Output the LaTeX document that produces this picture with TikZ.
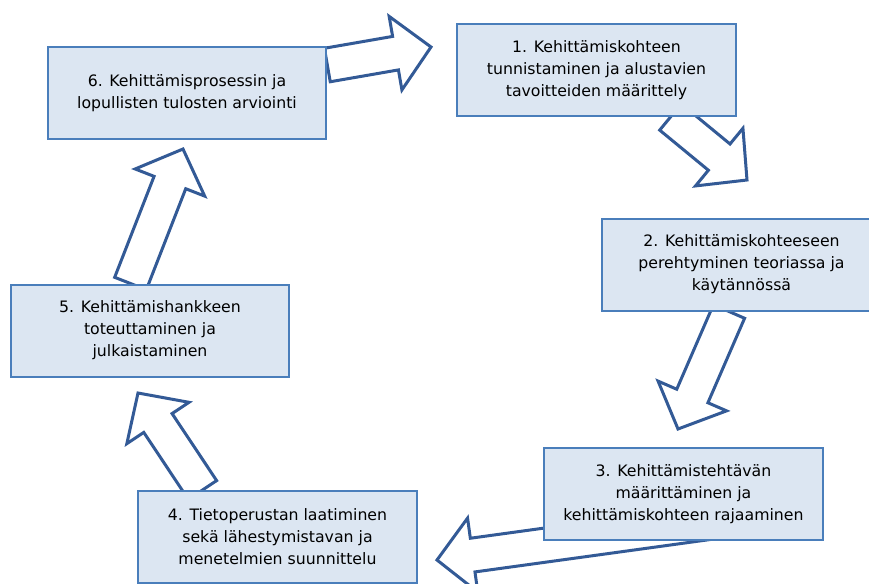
\documentclass[tikz,border=0pt]{standalone}
\usepackage{fontspec}
\setmainfont{DejaVu Sans}
\usetikzlibrary{calc,backgrounds}

\definecolor{boxfill}{HTML}{DCE6F2}
\definecolor{boxline}{HTML}{4A7EBB}
\definecolor{flowline}{HTML}{335A96}

% block arrow from #1 to tip #2
\newcommand{\cyclearrow}[2]{%
  \coordinate (#1#2-neck) at ($(#2)!27pt!(#1)$);
  \draw[flow] ($(#1)!12.75pt!90:(#2)$)
    -- ($(#1#2-neck)!12.75pt!-90:(#1)$)
    -- ($(#1#2-neck)!28pt!-90:(#1)$)
    -- (#2)
    -- ($(#1#2-neck)!28pt!90:(#1)$)
    -- ($(#1#2-neck)!12.75pt!90:(#1)$)
    -- ($(#1)!12.75pt!-90:(#2)$)
    -- cycle;}

\begin{document}
\begin{tikzpicture}[
            x=0.75pt, y=-0.75pt,
            box/.style={draw=boxline, fill=boxfill, line width=1.5pt,
                minimum width=209pt, minimum height=69pt, align=center,
                font=\fontsize{11.8pt}{16.5pt}\selectfont},
            flow/.style={draw=flowline, fill=white, line width=2.25pt, line join=miter}
        ]
        \useasboundingbox (0,0) rectangle (869,583);

        \node[box] (b1) at (596.5,70) {1. Kehittämiskohteen\\tunnistaminen ja alustavien\\tavoitteiden määrittely};
        \node[box] (b2) at (741.5,264.5) {2. Kehittämiskohteeseen\\perehtyminen teoriassa ja\\käytännössä};
        \node[box] (b3) at (683.5,494) {3. Kehittämistehtävän\\määrittäminen ja\\kehittämiskohteen rajaaminen};
        \node[box] (b4) at (277.5,537) {4. Tietoperustan laatiminen\\sekä lähestymistavan ja\\menetelmien suunnittelu};
        \node[box] (b5) at (150,330.5) {5. Kehittämishankkeen\\toteuttaminen ja\\julkaistaminen};
        \node[box] (b6) at (187,93) {6. Kehittämisprosessin ja\\lopullisten tulosten arviointi};

        % arrow ends
        \coordinate (s6) at ($(b6.east)+(0,-28)$);
        \coordinate (t1) at (431,47);
        \coordinate (s1) at ($(b1.south)+(74,0)$);
        \coordinate (t2) at (747,180);
        \coordinate (s2) at ($(b2.south)+(-12.5,0)$);
        \coordinate (t3) at (678,429);
        \coordinate (s3) at ($(b3.south)+(36.5,-20)$);
        \coordinate (t4) at (437,560);
        \coordinate (s4) at ($(b4.north)+(-75,0)$);
        \coordinate (t5) at (138,393);
        \coordinate (s5) at ($(b5.north)+(-19.5,0)$);
        \coordinate (t6) at (183,149);

        \begin{scope}[on background layer]
            \cyclearrow{s6}{t1}
            \cyclearrow{s1}{t2}
            \cyclearrow{s2}{t3}
            \cyclearrow{s3}{t4}
            \cyclearrow{s4}{t5}
            \cyclearrow{s5}{t6}
        \end{scope}
    \end{tikzpicture}
\end{document}
